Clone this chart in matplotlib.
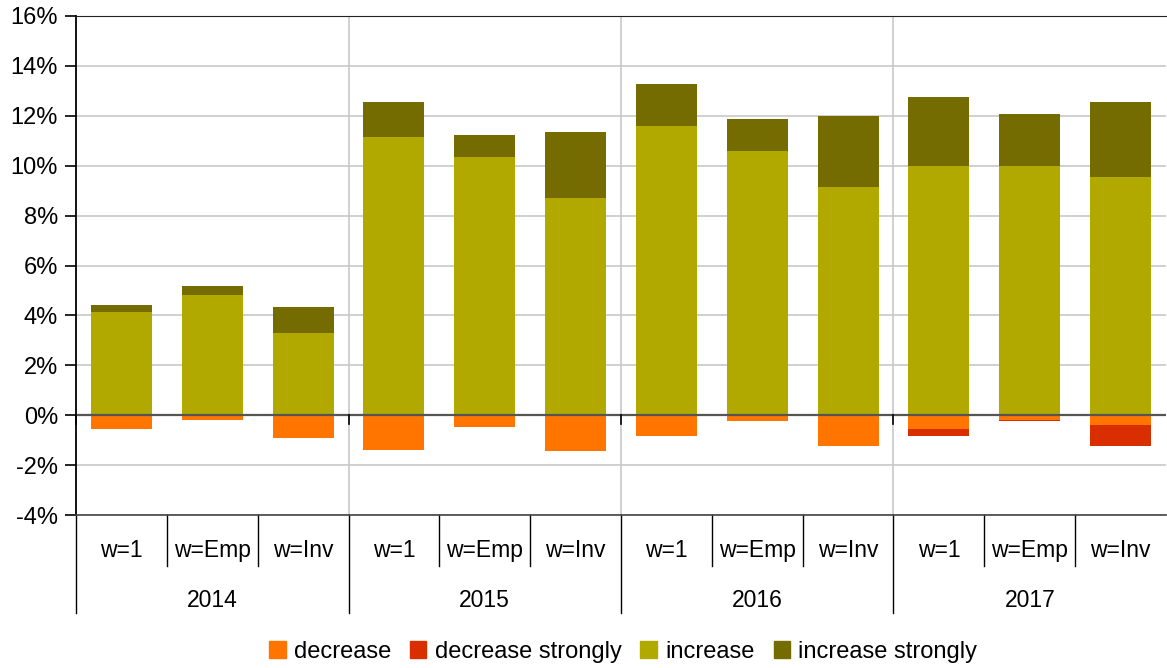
import numpy as np
import matplotlib
matplotlib.use('Agg')
import matplotlib.pyplot as plt
from matplotlib.patches import Patch
import matplotlib.transforms as mtransforms

plt.rcParams['font.family'] = ['Liberation Sans', 'DejaVu Sans']

years = ['2014', '2015', '2016', '2017']
weights = ['w=1', 'w=Emp', 'w=Inv']

# shares in percent, one value per bar (year x weighting)
increase        = [4.12, 4.80, 3.28, 11.16, 10.36, 8.72, 11.60, 10.60, 9.16, 10.00, 10.00, 9.56]
increase_strong = [0.28, 0.36, 1.04, 1.40, 0.88, 2.64, 1.68, 1.28, 2.84, 2.76, 2.08, 3.00]
decrease        = [0.56, 0.20, 0.92, 1.40, 0.48, 1.44, 0.84, 0.24, 1.24, 0.56, 0.19, 0.40]
decrease_strong = [0.00, 0.00, 0.00, 0.00, 0.00, 0.00, 0.00, 0.00, 0.00, 0.28, 0.04, 0.84]

c_dec = '#ff7500'
c_dec_s = '#d92e00'
c_inc = '#b2a900'
c_inc_s = '#746c00'

W, H = 1167, 668
fig = plt.figure(figsize=(W/100, H/100), dpi=100)
ax = fig.add_axes([76/W, 1-515/H, 1090/W, 499/H])

x = np.arange(len(increase))
inc = np.array(increase); inc_s = np.array(increase_strong)
dec = np.array(decrease); dec_s = np.array(decrease_strong)
bw = 0.67
ax.bar(x, inc, bw, color=c_inc, zorder=2, linewidth=0)
ax.bar(x, inc_s, bw, bottom=inc, color=c_inc_s, zorder=2, linewidth=0)
ax.bar(x, -dec, bw, color=c_dec, zorder=2, linewidth=0)
ax.bar(x, -dec_s, bw, bottom=-dec, color=c_dec_s, zorder=2, linewidth=0)

ax.set_xlim(-0.5, len(x)-0.5)
ax.set_ylim(-4, 16)
ax.set_yticks(np.arange(-4, 17, 2))
ax.set_yticklabels(['%d%%' % v for v in np.arange(-4, 17, 2)], fontsize=17)
ax.yaxis.grid(True, color='#c8c8c8', linewidth=1.2, zorder=0)
ax.set_axisbelow(True)
ax.tick_params(axis='y', length=8, width=1.2, direction='out', pad=5)
ax.set_xticks([])
ax.spines['right'].set_visible(False)
ax.spines['top'].set_color('#222222')
ax.spines['left'].set_linewidth(1.3)
ax.spines['bottom'].set_linewidth(1.2)
ax.spines['bottom'].set_color('#444444')

# year separators inside the plot
for b in [2.5, 5.5, 8.5]:
    ax.axvline(b, color='#c8c8c8', linewidth=1.2, zorder=1)

# zero line with small ticks at the year boundaries
ax.axhline(0, color='#555555', linewidth=1.6, zorder=3)
tr = mtransforms.blended_transform_factory(ax.transData, ax.transAxes)
for b in [-0.5, 2.5, 5.5, 8.5]:
    ax.plot([b, b], [0, -0.35], color='black', linewidth=1.2, zorder=4, clip_on=False)

# two-level category axis below the plot
for i in range(len(x)):
    b = i - 0.5
    depth = -0.196 if i % 3 == 0 else -0.102
    ax.plot([b, b], [0, depth], color='black', linewidth=1, transform=tr, clip_on=False)
for i in x:
    ax.text(i, -0.071, weights[i % 3], transform=tr, ha='center', va='center', fontsize=16.5)
for g, yr in enumerate(years):
    ax.text(3*g + 1, -0.171, yr, transform=tr, ha='center', va='center', fontsize=16.5)

handles = [Patch(color=c_dec, label='decrease'),
           Patch(color=c_dec_s, label='decrease strongly'),
           Patch(color=c_inc, label='increase'),
           Patch(color=c_inc_s, label='increase strongly')]
fig.legend(handles=handles, loc='center', bbox_to_anchor=(0.534, 1-652/H), ncol=4,
           frameon=False, fontsize=17, handlelength=0.7, handleheight=0.7,
           handletextpad=0.35, columnspacing=0.8)

fig.savefig('out.png', dpi=100)
